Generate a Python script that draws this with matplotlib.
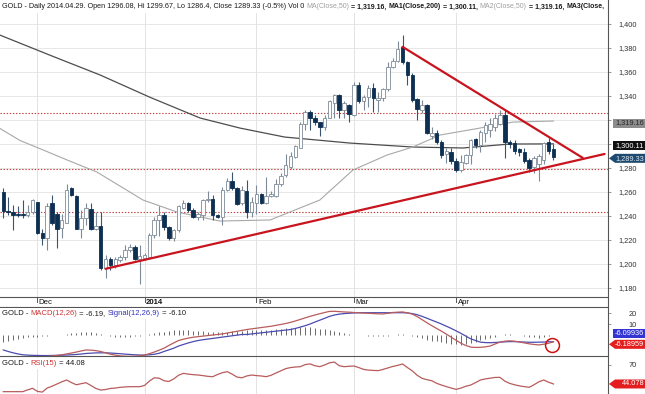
import matplotlib
matplotlib.use('Agg')
import matplotlib.pyplot as plt
import numpy as np
from matplotlib.patches import Rectangle, Polygon
from matplotlib.lines import Line2D
from matplotlib.transforms import blended_transform_factory

plt.rcParams['font.family'] = ['Liberation Sans', 'DejaVu Sans']

# ---------------- data ----------------
opens = [1260, 1244.5, 1243, 1241.5, 1242, 1240.5, 1243.5, 1251.5, 1225.5, 1221.5,
         1251, 1241.5, 1230, 1234, 1263, 1256.5, 1229.5, 1238, 1246, 1229.5,
         1231.5, 1196.5, 1204, 1199, 1203, 1205.5, 1211.5, 1214, 1204.5, 1205,
         1206, 1224, 1236.5, 1241, 1230.5, 1222, 1228, 1247, 1250.5, 1245,
         1239, 1241, 1253, 1254, 1241, 1239, 1261.5, 1269, 1263.5, 1250.5,
         1261, 1243.5, 1251, 1258.5, 1251, 1256.5, 1257, 1266.5, 1274, 1281,
         1289.5, 1297, 1316.5, 1327, 1321.5, 1318, 1314, 1322, 1334.5, 1341,
         1328, 1332.5, 1324, 1349, 1335.5, 1339.5, 1346.5, 1337, 1338, 1345.5,
         1364.5, 1369.5, 1381, 1368.5, 1357.5, 1337.5, 1328.5, 1332.5, 1307, 1309.5,
         1302, 1291.5, 1293.5, 1286, 1278.5, 1284.5, 1290.5, 1304, 1299, 1309,
         1312, 1314, 1317, 1324, 1302, 1301, 1295.5, 1293.5, 1286.5, 1281,
         1283, 1287, 1301.5, 1296.08]
highs = [1263, 1256, 1249, 1248, 1253, 1249, 1254, 1252, 1229.5, 1250.5,
         1257.5, 1243.5, 1242, 1266.5, 1264, 1257.5, 1245, 1250.5, 1250.5, 1243.5,
         1243.5, 1207.5, 1206, 1206, 1207.5, 1216, 1217, 1216, 1216, 1209.5,
         1225.5, 1239.5, 1248, 1243.5, 1231.5, 1229.5, 1249, 1253.5, 1252, 1246.5,
         1243, 1254, 1260.5, 1257.5, 1242, 1264.5, 1271.5, 1277, 1264.5, 1265,
         1270, 1256, 1265.5, 1259.5, 1272.5, 1260.5, 1270.5, 1275.5, 1292, 1293.5,
         1299, 1318, 1328.5, 1328.5, 1324, 1318.5, 1324, 1336.5, 1342, 1342,
         1335.5, 1333.5, 1352, 1352, 1341, 1349, 1350.5, 1343.5, 1346.5, 1368,
         1371.5, 1385.5, 1391, 1369.5, 1359, 1338, 1336.5, 1333, 1314, 1312,
         1303, 1297, 1297, 1288, 1291, 1292, 1304, 1305, 1312, 1318,
         1322, 1325, 1328.5, 1328, 1303, 1303, 1297, 1297, 1288, 1290,
         1292, 1301.5, 1305, 1299.67]
lows = [1238, 1241, 1228, 1239, 1238, 1239, 1242, 1225, 1216, 1212,
        1232.5, 1213, 1222, 1234, 1256.5, 1229, 1221.5, 1232.5, 1228, 1228,
        1195, 1188, 1195, 1197, 1202, 1203, 1210, 1203, 1183, 1203.5,
        1205.5, 1221.5, 1223, 1228.5, 1220, 1219.5, 1227, 1245.5, 1243.5, 1238,
        1237, 1237, 1252, 1236.5, 1238.5, 1232.5, 1260.5, 1261.5, 1249, 1249,
        1238, 1239.5, 1242, 1250, 1250, 1255.5, 1255.5, 1265, 1272.5, 1279.5,
        1288, 1296.5, 1311.5, 1311.5, 1316, 1306.5, 1311.5, 1321.5, 1322, 1321.5,
        1322, 1318.5, 1323.5, 1334.5, 1328.5, 1331, 1327, 1327, 1335.5, 1344.5,
        1363, 1368.5, 1367, 1349, 1335, 1320, 1325.5, 1308, 1304.5, 1300,
        1288, 1284, 1283, 1276.5, 1277, 1283, 1283, 1297, 1293, 1302,
        1306, 1311, 1316, 1288, 1297, 1292, 1290, 1284, 1277, 1276,
        1269, 1283, 1292, 1286.4]
closes = [1244.5, 1243, 1241, 1241, 1240.5, 1243.5, 1253, 1225.5, 1221.5, 1248,
          1234, 1229, 1237, 1262, 1257.5, 1229.5, 1238, 1246.5, 1229, 1231.5,
          1196.5, 1204, 1199, 1204.5, 1206, 1211.5, 1214, 1204.5, 1207, 1207.5,
          1224, 1236.5, 1241, 1231, 1222, 1228, 1248, 1250.5, 1245, 1239.5,
          1241.5, 1253.5, 1254.5, 1241, 1239, 1261.5, 1269.5, 1263.5, 1250, 1261.5,
          1243.5, 1252, 1258.5, 1251, 1256.5, 1258.5, 1266.5, 1273.5, 1282.5, 1290,
          1298, 1317, 1327, 1321.5, 1318, 1314, 1322, 1335.5, 1341, 1328,
          1334, 1325, 1349, 1335.5, 1339.5, 1347, 1338, 1338.5, 1345.5, 1364.5,
          1369.5, 1379.5, 1368.5, 1357.5, 1336.5, 1329, 1332.5, 1309.5, 1309.5, 1302,
          1291, 1294, 1286, 1278.5, 1285, 1291, 1303.5, 1299, 1310, 1316,
          1317, 1321.5, 1324, 1302, 1300, 1294.5, 1293, 1286, 1280, 1288,
          1290, 1301, 1294, 1289.33]

# moving averages read at sample candle positions
ma50_idx = [-0.7, 3.4, 8.2, 13.1, 19.2, 28.7, 35.7, 44.5, 54.8, 65, 71.8, 78.8, 84.1, 89.7, 97.9, 104.7, 113]
ma50_val = [1313, 1303, 1295, 1286.7, 1276.7, 1253.3, 1243.3, 1235.8, 1236.7, 1253.3, 1278.3, 1290.8, 1297.5, 1307.5, 1313.3, 1318.3, 1319.16]
ma200_idx = [-0.7, 9.6, 19.9, 30.1, 40.4, 44.5, 48.6, 57.8, 71.2, 84.1, 94.4, 104, 113]
ma200_val = [1390.8, 1374, 1357.5, 1339, 1321.7, 1317.5, 1313.3, 1305.8, 1300.8, 1297.5, 1296.7, 1300, 1300.11]

macd = [-20, -20.3, -20.5, -20.6, -20.5, -20.5, -20.2, -20, -19.8, -19.5,
        -19, -18.6, -18, -17.2, -16.4, -15.5, -14.5, -13.6, -13.8, -14.2,
        -15, -16.2, -17.5, -18.3, -19, -19.3, -19.4, -19.3, -19, -18.2,
        -17, -15.5, -13.8, -12, -9.5, -7.2, -5, -3.8, -2.8, -2.0,
        -1.5, -1, -0.5, 0, 0.5, 1, 1.8, 2.6, 3.4, 4.2,
        5, 5.6, 6.2, 6.8, 7.4, 8, 8.8, 9.6, 10.5, 11.5,
        12.8, 14.2, 15.6, 17, 18.2, 19.4, 20.5, 21.5, 21.6, 21.3,
        21, 20.8, 20.5, 20.2, 20, 19.8, 19.5, 19.3, 19.2, 19.8,
        20.5, 20.8, 21, 20.2, 19, 16.8, 14, 11.2, 8.5, 6,
        3.5, 0.8, -2, -4.8, -7.5, -9.5, -11, -11.3, -11.2, -10.8,
        -10, -8.2, -6.5, -5.6, -5.3, -5.6, -6.3, -7.2, -8, -8.6,
        -9, -8.4, -7.5, -6.19]
signal = [-13.6, -15, -16.2, -17.2, -18, -18.3, -18.5, -18.6, -18.7, -18.7,
          -18.6, -18.5, -18.4, -18.2, -18, -17.7, -17.3, -16.8, -16.5, -16.3,
          -16.2, -16.2, -16.4, -16.7, -17, -17.4, -17.7, -18, -18.2, -18.3,
          -18, -17.5, -16.6, -15, -13.5, -12, -10, -8.6, -7.2, -6,
          -5, -4.3, -3.7, -3.1, -2.5, -1.9, -1.3, -0.7, -0.1, 0.5,
          0.5, 1, 1.5, 2, 2.5, 3, 3.5, 4, 4.5, 5,
          6, 7.2, 8.5, 10, 11.8, 13.5, 15.2, 17, 18.2, 19,
          19.5, 19.8, 20.1, 20.3, 20.3, 20.3, 20.3, 20.3, 20.3, 20.3,
          20.3, 20.3, 20.3, 20.1, 19.5, 18.5, 17, 15.3, 13.5, 11.8,
          10, 8, 6, 3.8, 1.5, -1, -3.5, -5, -6.5, -6.9,
          -7, -6.8, -6.5, -6.2, -6, -6, -6.2, -6.4, -6.6, -6.6,
          -6.5, -6.4, -6.2, -6.10]
rsi = [33.6, 33.6, 33.6, 33.6, 33.6, 36, 38.2, 34, 33, 38.5,
       41, 44, 47, 49.5, 46, 43, 44.5, 45.8, 42, 38,
       35.8, 36.5, 38, 38.5, 39.5, 40, 40.4, 40.4, 40.4, 42,
       48, 52.5, 52, 48.5, 47.5, 51, 56, 58.6, 57.5, 56.8,
       56.3, 55.5, 54.5, 54, 57, 59.5, 60.9, 57.5, 53.5, 52.5,
       55, 56.3, 55.5, 55, 54, 56, 59, 62, 65, 66.5,
       67.2, 67.7, 70.5, 71.5, 69, 67.7, 70, 73, 74, 69,
       67.7, 68.2, 68.6, 66.5, 64, 63, 62.6, 62.3, 64, 66,
       68, 69.5, 71.4, 66.5, 62, 56, 51.8, 50, 48.5, 45,
       42.6, 40.5, 38.5, 36.7, 38.5, 41, 42.6, 46, 49.5, 51,
       52, 53, 53.1, 48, 44.9, 43, 41.5, 40.5, 39.5, 43,
       47, 49.5, 46.5, 44.08]

month_idx = [7, 29, 52, 72, 93]
month_labels = ['Dec', '2014', 'Feb', 'Mar', 'Apr']
levels = [1326, 1279.5, 1243.5]          # red dotted horizontal levels
support_x = [21, 123.5]
support_y = [1196, 1291.7]
resist_x = [82, 119]
resist_y = [1381, 1288.5]
price_ticks = list(range(1180, 1401, 20))
last_ma50, last_ma200, last_close = 1319.16, 1300.11, 1289.33
last_macd, last_signal, last_rsi = -6.18959, -6.09936, 44.078

# ---------------- layout ----------------
W, H = 645, 394
fig = plt.figure(figsize=(W / 100, H / 100), dpi=100)
fig.patch.set_facecolor('white')


def fy(py):
    return 1 - py / H


AXR = 608
ax = fig.add_axes([0, fy(297), AXR / W, (297 - 13) / H])
axm = fig.add_axes([0, fy(356), AXR / W, (356 - 307) / H])
axr = fig.add_axes([0, 0, AXR / W, (394 - 357) / H])

n = len(closes)
idx = np.arange(n)
xl = (-0.68, 124.2)
GRID = '#e3e3e3'
SPINE = '#555555'
FS = 5.3

for a in (ax, axm, axr):
    a.set_xlim(*xl)
    a.set_xticks([])
    for s in a.spines.values():
        s.set_visible(False)
    for m in month_idx:
        a.axvline(m, color=GRID, lw=0.7, zorder=0)

# ---- main price panel ----
ax.set_ylim(1172.5, 1409.2)
ax.set_yticks(price_ticks)
for p in price_ticks:
    ax.axhline(p, color=GRID, lw=0.6, zorder=0)
for lv in levels:
    ax.axhline(lv, color='#c43a3a', lw=0.8, ls=(0, (1.2, 1.6)), zorder=1)

ax.plot(ma200_idx, ma200_val, color='#4d4d4d', lw=0.9, zorder=2)
ax.plot(ma50_idx, ma50_val, color='#a8a8a8', lw=0.8, zorder=2)

DARK = '#0d2f52'
HOLLOW_EDGE = '#7d8b98'
bw = 0.72
for i in range(n):
    o, h, l, c = opens[i], highs[i], lows[i], closes[i]
    up = c >= o
    ax.vlines(i, l, h, color=('#7d8b98' if up else '#3a5470'), lw=0.8, zorder=3)
    bottom = min(o, c)
    height = max(abs(c - o), 0.4)
    ax.add_patch(Rectangle((i - bw / 2, bottom), bw, height,
                           facecolor=('white' if up else DARK),
                           edgecolor=(HOLLOW_EDGE if up else DARK), lw=0.6, zorder=4))

ax.plot(support_x, support_y, color='#c8141e', lw=1.6, zorder=5, solid_capstyle='round')
ax.plot(resist_x, resist_y, color='#c8141e', lw=1.6, zorder=5, solid_capstyle='round')

# ---- MACD panel ----
axm.set_ylim(-19.1, 25.5)
axm.set_yticks([20, 10])
hist = np.array(macd) - np.array(signal)
axm.vlines(idx, 0, hist, color='#6a6a6a', lw=0.7, zorder=2)
axm.plot(idx, signal, color='#4b4bb0', lw=0.9, zorder=3)
axm.plot(idx, macd, color='#b85c5c', lw=0.9, zorder=3)
axm.plot([idx[-1] - 0.3], [last_macd - 3.2], marker='o', ms=10, mfc='none',
         mec='#cc1111', mew=1.1, zorder=6, clip_on=False)

# ---- RSI panel ----
axr.set_ylim(30.4, 80.9)
axr.set_yticks([70])
axr.plot(idx, rsi, color='#b85c5c', lw=0.9, zorder=3)

for a in (ax, axm, axr):
    a.yaxis.set_ticks_position('right')
    a.tick_params(axis='y', which='both', right=True, left=False, labelleft=False,
                  labelright=False, length=2.5, width=0.6, color='#888888', direction='out')

# ---------------- frame lines ----------------
for y in (297, 307, 356):
    fig.add_artist(Line2D([0, AXR / W], [fy(y), fy(y)], transform=fig.transFigure,
                          color=SPINE, lw=0.8))
fig.add_artist(Line2D([AXR / W, AXR / W], [0, 1], transform=fig.transFigure,
                      color=SPINE, lw=0.8))

# month labels in the date strip
bt = blended_transform_factory(ax.transData, fig.transFigure)
for m, lab in zip(month_idx, month_labels):
    fig.add_artist(Line2D([m, m], [fy(297), fy(302)], transform=bt, color=SPINE, lw=0.7))
    fig.text(m + 0.3, fy(302.5), lab, transform=bt, fontsize=FS + 0.3, ha='left', va='center',
             color='#111111', fontweight=('bold' if lab == '2014' else 'normal'))

fig.canvas.draw()
renderer = fig.canvas.get_renderer()


def ypx(a, v):
    return H - a.transData.transform((0, v))[1]


# right-side tick labels
def right_labels(a, ticks, fmt):
    for t in ticks:
        fig.text(637 / W, fy(ypx(a, t) + 1), fmt(t), fontsize=FS, ha='right',
                 va='center', color='#333333')


right_labels(ax, [t for t in price_ticks if t not in (1300, 1320)], lambda t: f'{t:,}')
right_labels(axm, [20, 10], lambda t: f'{t}')
right_labels(axr, [70], lambda t: f'{t}')


def tag(yc, text, fc, tc='white', arrow=False, x0=613, x1=645, h=9):
    if arrow:
        pts = [(609, yc), (615, yc - h / 2), (x1, yc - h / 2), (x1, yc + h / 2), (615, yc + h / 2)]
    else:
        pts = [(x0, yc - h / 2), (x1, yc - h / 2), (x1, yc + h / 2), (x0, yc + h / 2)]
    fig.add_artist(Polygon([(x / W, fy(y)) for x, y in pts], closed=True,
                           transform=fig.transFigure, facecolor=fc, edgecolor='none', zorder=5))
    fig.text(644 / W, fy(yc), text, fontsize=FS, ha='right', va='center', color=tc, zorder=6)


tag(ypx(ax, last_ma50) + 2, f'{last_ma50:,.2f}', '#8c8c8c', tc='#262626')
tag(ypx(ax, last_ma200) + 2, f'{last_ma200:,.2f}', '#111111')
tag(ypx(ax, last_close) + 1.5, f'{last_close:,.2f}', '#1e4a70', tc='#dfe8f0', arrow=True)
tag(ypx(axm, last_signal) - 8, f'{last_signal:.5f}', '#3434d4')
tag(ypx(axm, last_macd) + 2.5, f'{last_macd:.5f}', '#e41e1e', arrow=True)
tag(ypx(axr, last_rsi), f'{last_rsi:.3f}', '#e41e1e', arrow=True)


# multi-colour text lines
def text_width(s, size, weight='normal'):
    t1 = fig.text(0, 0, s + '|', fontsize=size, fontweight=weight)
    t2 = fig.text(0, 0, '|', fontsize=size, fontweight=weight)
    w = t1.get_window_extent(renderer).width - t2.get_window_extent(renderer).width
    t1.remove()
    t2.remove()
    return w


def multi_text(x, y, parts, size, bg=False):
    for part in parts:
        s, col = part[0], part[1]
        wt = part[2] if len(part) > 2 else 'normal'
        sz = part[3] if len(part) > 3 else size
        fig.text(x / W, fy(y), s, fontsize=sz, color=col, fontweight=wt,
                 ha='left', va='center', zorder=4)
        x += text_width(s, sz, wt)
    if bg:
        fig.add_artist(Rectangle((0, fy(y + 5.5)), (x + 3) / W, 11 / H, transform=fig.transFigure,
                                 facecolor='white', edgecolor='none', zorder=3.5))


BLK = '#1a1a1a'
GRY = '#a0a0a0'
TS = 5.05
multi_text(2, 7, [
    ('GOLD - Daily 2014.04.29. Open 1296.08, Hi 1299.67, Lo 1286.4, Close 1289.33 (-0.5%) Vol 0 ', BLK,
     'normal', 5.2),
    ('MA(Close,50)', GRY, 'normal', TS), (' = 1,319.16, ', BLK, 'bold', TS),
    ('MA1(Close,200)', BLK, 'bold', TS), (' = 1,300.11, ', BLK, 'bold', TS),
    ('MA2(Close,50)', GRY, 'normal', TS), (' = 1,319.16, ', BLK, 'bold', TS),
    ('MA3(Close,', BLK, 'bold', TS)],
    FS + 0.2)

multi_text(2, 313.5, [('GOLD - ', BLK), ('MACD(12,26)', '#cc3333'), (' = -6.19, ', BLK),
                      ('Signal(12,26,9)', '#3333bb'), (' = -6.10', BLK)], FS + 0.2, bg=True)
multi_text(2, 363.5, [('GOLD - ', BLK), ('RSI(15)', '#cc3333'), (' = 44.08', BLK)], FS + 0.2, bg=True)

fig.savefig('out.png', dpi=100)
